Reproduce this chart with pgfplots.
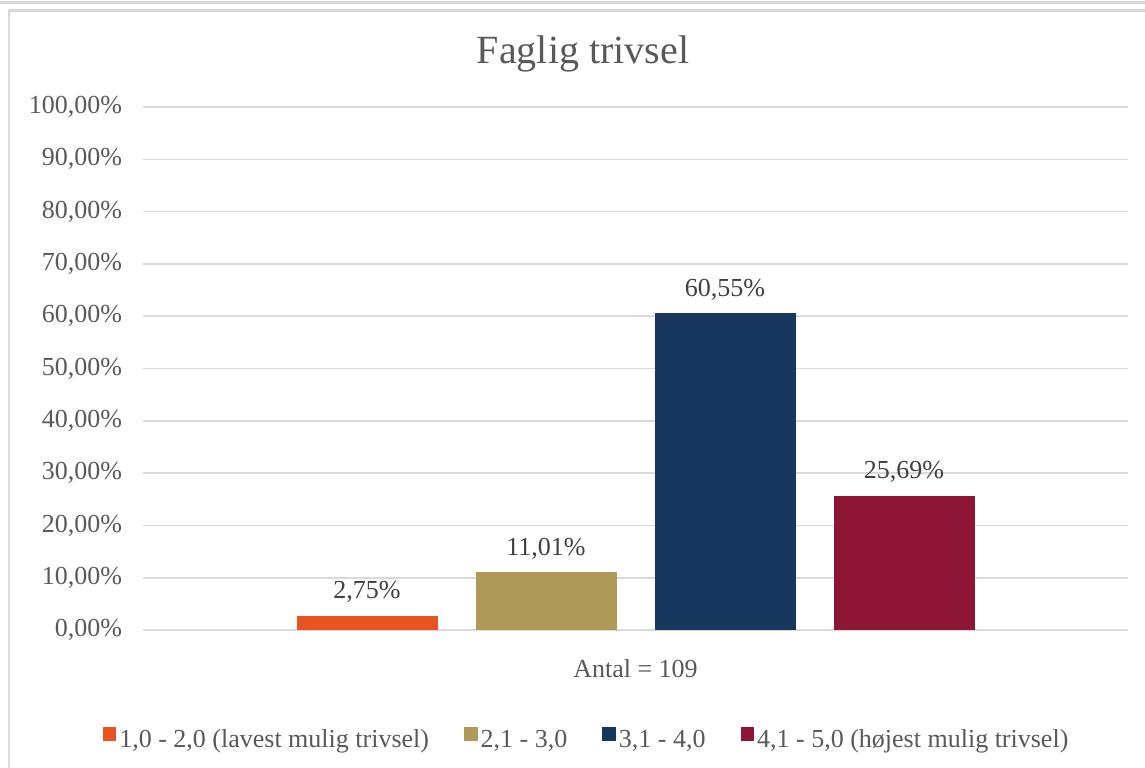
\documentclass[border=0pt]{standalone}
\usepackage{pgfplots}
\pgfplotsset{compat=1.18}
\usepackage{fontspec}
\setmainfont{Liberation Serif}
\definecolor{cOrange}{RGB}{233,83,31}
\definecolor{cTan}{RGB}{176,154,90}
\definecolor{cNavy}{RGB}{23,55,94}
\definecolor{cMaroon}{RGB}{140,22,52}
\definecolor{cGrid}{RGB}{217,217,217}
\definecolor{cText}{RGB}{89,89,89}
\definecolor{cLabel}{RGB}{64,64,64}
\begin{document}
\begin{tikzpicture}[x=1pt,y=1pt]
\useasboundingbox (0,0) rectangle (572.5,383.5);
% surrounding frames
\draw[cGrid, line width=1.2pt] (0,382.2) -- (572.5,382.2);
\draw[cGrid, line width=1.2pt] (4.6,-2) -- (4.6,378.2) -- (575,378.2);
% title
\node[anchor=base, font=\fontsize{20}{24}\selectfont, text=cText] at (291.5,351.5) {Faglig trivsel};
\begin{axis}[
  at={(71.5pt,68.5pt)}, anchor=south west,
  scale only axis, width=492.5pt, height=261.5pt,
  xmin=-1, xmax=1, ymin=0, ymax=100,
  ybar, bar width=70.5pt, ybar=19pt,
  axis line style={draw=none},
  major tick length=0pt,
  xtick={0}, xticklabels={Antal = 109},
  xticklabel style={font=\fontsize{13}{15}\selectfont, text=cText, yshift=-11pt},
  ytick={0,10,...,100},
  yticklabel={\pgfmathprintnumber[fixed,fixed zerofill,precision=2,use comma,assume math mode=true]{\tick}\%},
  yticklabel style={font=\fontsize{13}{15}\selectfont, text=cText, xshift=-7pt},
  ymajorgrids, major grid style={cGrid, line width=0.8pt},
  nodes near coords={\pgfmathprintnumber[fixed,fixed zerofill,precision=2,use comma,assume math mode=true]{\pgfplotspointmeta}\%},
  every node near coord/.append style={font=\fontsize{13}{15}\selectfont, text=cLabel, yshift=3pt},
  legend columns=4,
  legend style={at={(0.4508,-0.2103)}, anchor=center, draw=none, fill=none,
    font=\fontsize{13}{15}\selectfont, text=cText,
    /tikz/every even column/.append style={column sep=16pt},
    nodes={inner sep=1.5pt}},
  legend image code/.code={\fill[#1] (0pt,-0.3pt) rectangle (6.8pt,6.5pt);},
]
\addplot[fill=cOrange, draw=none] coordinates {(0,2.75)};
\addplot[fill=cTan, draw=none] coordinates {(0,11.01)};
\addplot[fill=cNavy, draw=none] coordinates {(0,60.55)};
\addplot[fill=cMaroon, draw=none] coordinates {(0,25.69)};
\legend{{1,0 - 2,0 (lavest mulig trivsel)}, {2,1 - 3,0}, {3,1 - 4,0}, {4,1 - 5,0 (højest mulig trivsel)}}
\end{axis}
\end{tikzpicture}
\end{document}
